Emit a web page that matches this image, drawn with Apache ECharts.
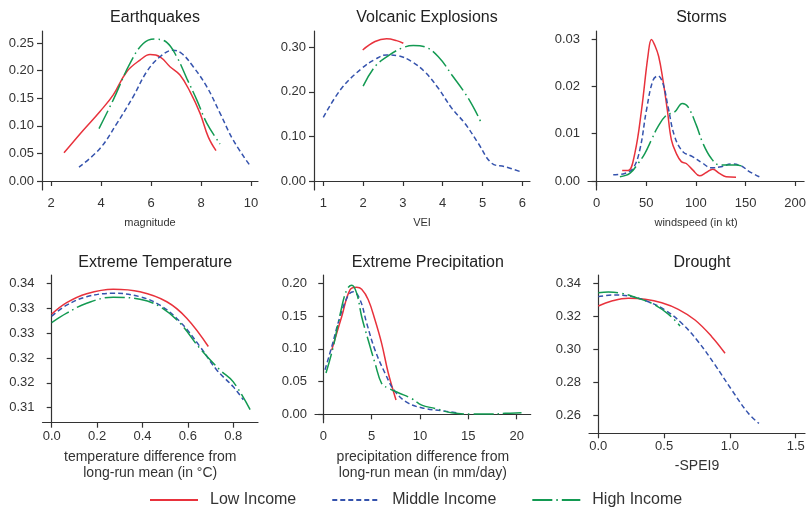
<!DOCTYPE html>
<html>
<head>
<meta charset="utf-8">
<script src="https://cdn.jsdelivr.net/npm/echarts@6/dist/echarts.min.js"></script>
<style>
  html, body { margin: 0; padding: 0; background: #fff; }
  #chart { width: 809px; height: 511px; }
</style>
</head>
<body>
<div id="chart"></div>
<script>
// series names
const incomeGroups = ['Low Income', 'Middle Income', 'High Income'];

// Earthquakes (magnitude)
const eqLow = [[2.52,0.051],[3.29,0.092],[3.96,0.126],[4.49,0.156],[5.03,0.198],[5.56,0.219],[5.96,0.229],[6.36,0.225],[6.76,0.207],[7.16,0.192],[7.56,0.162],[7.96,0.123],[8.29,0.080],[8.6,0.055]];
const eqMid = [[3.12,0.025],[3.96,0.059],[4.63,0.104],[5.29,0.153],[5.83,0.198],[6.36,0.225],[6.89,0.237],[7.23,0.231],[7.69,0.207],[8.23,0.171],[8.76,0.123],[9.29,0.074],[9.99,0.026]];
const eqHigh = [[3.92,0.095],[4.49,0.147],[5.16,0.213],[5.69,0.249],[6.16,0.257],[6.63,0.251],[7.03,0.225],[7.43,0.186],[7.83,0.147],[8.23,0.105],[8.76,0.067]];
const eqXTicks = [2, 4, 6, 8, 10];
const eqYTicks = [0, 0.05, 0.10, 0.15, 0.20, 0.25];

// Volcanic explosions (VEI)
const volLow = [[1.99,0.294],[2.30,0.313],[2.59,0.319],[2.84,0.315],[3.01,0.309]];
const volMid = [[1.0,0.143],[1.46,0.208],[1.97,0.253],[2.30,0.273],[2.59,0.283],[2.88,0.281],[3.22,0.268],[3.55,0.245],[3.89,0.208],[4.23,0.163],[4.56,0.129],[4.89,0.085],[5.23,0.040],[5.57,0.032],[6.0,0.0195]];
const volHigh = [[2.0,0.213],[2.30,0.257],[2.63,0.281],[2.97,0.298],[3.26,0.304],[3.55,0.301],[3.89,0.279],[4.23,0.238],[4.56,0.197],[4.81,0.159],[4.98,0.128]];
const volXTicks = [1, 2, 3, 4, 5, 6];
const volYTicks = [0, 0.10, 0.20, 0.30];

// Storms (windspeed in kt)
const stLow = [[25.7,0.0022],[31.7,0.0022],[38.4,0.0058],[45.2,0.0150],[51.8,0.0266],[55.2,0.0299],[58.5,0.0287],[62.5,0.0263],[66.8,0.0213],[71.2,0.0150],[75.3,0.0087],[80.3,0.0058],[85.3,0.0041],[90.3,0.0037],[97,0.0023],[103.7,0.0011],[110.4,0.0018],[117,0.0025],[123.7,0.0016],[130.4,0.0009],[140.4,0.0008]];
const stMid = [[16.7,0.0013],[28.4,0.0016],[36.7,0.0027],[43.5,0.0066],[50.2,0.0150],[56.8,0.0213],[61.8,0.0222],[66.8,0.0206],[71.9,0.0157],[78.6,0.0094],[86.9,0.0062],[97,0.0051],[107,0.0037],[115.4,0.0028],[125.4,0.0030],[135.5,0.0036],[145.5,0.0032],[153.8,0.0020],[163.9,0.0009]];
const stHigh = [[23.4,0.0009],[33.4,0.0016],[41.7,0.0037],[48.5,0.0058],[55.2,0.0087],[61.8,0.0115],[70.2,0.0139],[78.6,0.0146],[86.3,0.0164],[91.9,0.0157],[100.4,0.0118],[107,0.0080],[115.4,0.0048],[123.7,0.0034],[132,0.0034],[140.4,0.0034],[148.8,0.0030]];
const stXTicks = [0, 50, 100, 150, 200];
const stYTicks = [0, 0.01, 0.02, 0.03];

// Extreme temperature
const tpLow = [[0,0.3338],[0.066,0.3361],[0.154,0.3379],[0.271,0.3388],[0.389,0.3383],[0.507,0.3363],[0.595,0.3330],[0.69,0.3273]];
const tpMid = [[0,0.3334],[0.066,0.3356],[0.154,0.3373],[0.271,0.3380],[0.389,0.3373],[0.477,0.3356],[0.565,0.3323],[0.653,0.3273],[0.727,0.3226],[0.8,0.3192],[0.844,0.3166]];
const tpHigh = [[0,0.3321],[0.066,0.3340],[0.154,0.3360],[0.271,0.3372],[0.389,0.3368],[0.477,0.3353],[0.565,0.3320],[0.653,0.3269],[0.741,0.3226],[0.8,0.3202],[0.874,0.3146]];
const tpXTicks = [0, 0.2, 0.4, 0.6, 0.8];
const tpYTicks = [0.315, 0.32, 0.325, 0.33, 0.335, 0.34];
const tpYLabels = ['0.31', '0.32', '0.32', '0.33', '0.33', '0.34'];

// Extreme precipitation
const prLow = [[0.87,0.098],[1.9,0.149],[2.76,0.190],[3.45,0.194],[3.97,0.191],[4.65,0.175],[5.35,0.144],[6.04,0.108],[6.72,0.063],[7.52,0.022]];
const prMid = [[0.18,0.068],[0.87,0.103],[1.73,0.149],[2.59,0.182],[3.1,0.187],[3.8,0.175],[4.49,0.139],[5.35,0.098],[6.38,0.063],[7.41,0.035],[8.79,0.017],[10.5,0.009],[12.24,0.0055],[13.8,0.0024]];
const prHigh = [[0.28,0.063],[1.03,0.103],[1.73,0.152],[2.42,0.190],[2.94,0.197],[3.45,0.185],[3.97,0.149],[4.65,0.113],[5.35,0.078],[6.04,0.047],[6.72,0.040],[7.76,0.033],[9.14,0.024],[10.18,0.014],[11.55,0.009],[13.28,0.0024],[15.35,0.0005],[17.4,0.0005],[18.8,0.0015],[20.5,0.0024]];
const prXTicks = [0, 5, 10, 15, 20];
const prYTicks = [0, 0.05, 0.10, 0.15, 0.20];

// Drought (-SPEI9)
const drLow = [[0,0.3262],[0.102,0.3292],[0.228,0.3309],[0.355,0.3303],[0.482,0.3282],[0.608,0.3242],[0.735,0.3177],[0.862,0.3076],[0.963,0.2975]];
const drMid = [[0,0.3319],[0.127,0.3329],[0.254,0.3319],[0.38,0.3288],[0.507,0.3238],[0.634,0.3157],[0.76,0.3045],[0.887,0.2904],[1.014,0.2752],[1.14,0.2610],[1.221,0.2549]];
const drHigh = [[0,0.3343],[0.076,0.3347],[0.178,0.3339],[0.279,0.3315],[0.406,0.3278],[0.532,0.3213],[0.621,0.3141]];
const drXTicks = [0, 0.5, 1.0, 1.5];
const drYTicks = [0.26, 0.28, 0.30, 0.32, 0.34];

const lineColors = ['#e8323c', '#3553ad', '#139a52'];
const lineTypes = ['solid', [5, 3], [20, 4, 1.5, 4]];
const font = 'Liberation Sans, Arial, Helvetica, sans-serif';

const fix = d => v => v.toFixed(d);
const tpFmt = v => {
    let best = 0;
    tpYTicks.forEach((t, i) => { if (Math.abs(t - v) < Math.abs(tpYTicks[best] - v)) best = i; });
    return tpYLabels[best];
};

let panels = [
    {title: 'Earthquakes', xName: 'magnitude', small: true,
     box: {left: 42, top: 31, width: 216, height: 159},
     x: [1.64, 10.28], y: [-0.0163, 0.2717], xTicks: eqXTicks, yTicks: eqYTicks,
     xFmt: fix(0), yFmt: fix(2), lines: [eqLow, eqMid, eqHigh]},
    {title: 'Volcanic Explosions', xName: 'VEI', small: true,
     box: {left: 314, top: 31, width: 216, height: 159},
     x: [0.766, 6.193], y: [-0.0202, 0.3366], xTicks: volXTicks, yTicks: volYTicks,
     xFmt: fix(0), yFmt: fix(2), lines: [volLow, volMid, volHigh]},
    {title: 'Storms', xName: 'windspeed (in kt)', small: true,
     box: {left: 588, top: 31, width: 217, height: 159},
     x: [-8.73, 209], y: [-0.0019, 0.03169], xTicks: stXTicks, yTicks: stYTicks,
     xFmt: fix(0), yFmt: fix(2), lines: [stLow, stMid, stHigh]},
    {title: 'Extreme Temperature', xName: 'temperature difference from\nlong-run mean (in °C)',
     box: {left: 42.5, top: 275, width: 215.5, height: 147.7},
     x: [-0.0405, 0.9088], y: [0.31199, 0.34167], xTicks: tpXTicks, yTicks: tpYTicks,
     xFmt: fix(1), yFmt: tpFmt, lines: [tpLow, tpMid, tpHigh]},
    {title: 'Extreme Precipitation', xName: 'precipitation difference from\nlong-run mean (in mm/day)',
     box: {left: 315, top: 275, width: 215.7, height: 147.7},
     x: [-0.858, 21.45], y: [-0.0128, 0.2127], xTicks: prXTicks, yTicks: prYTicks,
     xFmt: fix(0), yFmt: fix(2), lines: [prLow, prMid, prHigh]},
    {title: 'Drought', xName: '-SPEI9',
     box: {left: 589, top: 275, width: 216, height: 158.3},
     x: [-0.0707, 1.5707], y: [0.24887, 0.34504], xTicks: drXTicks, yTicks: drYTicks,
     xFmt: fix(1), yFmt: fix(2), lines: [drLow, drMid, drHigh]}
];

const axisLine = {show: true, lineStyle: {color: '#333', width: 1.2}};
const axisTick = {show: true, length: 5, lineStyle: {color: '#333', width: 1.2}};

let option = {
    backgroundColor: '#fff',
    animation: false,
    title: [], grid: [], xAxis: [], yAxis: [], series: [],
    legend: {
        data: incomeGroups,
        left: 144, top: 487,
        itemWidth: 48, itemHeight: 14, itemGap: 35,
        itemStyle: {opacity: 0},
        textStyle: {fontFamily: font, fontSize: 16, color: '#333', padding: [0, 0, 0, 7]}
    }
};

panels.forEach((p, i) => {
    option.title.push({
        text: p.title,
        left: p.box.left + p.box.width / 2,
        top: i < 3 ? 5 : 250,
        textAlign: 'center',
        textStyle: {fontFamily: font, fontSize: 16, fontWeight: 'normal', color: '#222'}
    });
    option.grid.push(Object.assign({containLabel: false}, p.box));
    option.xAxis.push({
        type: 'value', gridIndex: i, min: p.x[0], max: p.x[1],
        name: p.xName, nameLocation: 'middle', nameGap: p.small ? 25 : (i === 5 ? 25 : 26),
        nameTextStyle: {fontFamily: font, fontSize: p.small ? 11 : 14, lineHeight: 16, color: '#333'},
        axisLine: axisLine, axisTick: Object.assign({customValues: p.xTicks}, axisTick),
        splitLine: {show: false},
        axisLabel: {customValues: p.xTicks, formatter: p.xFmt, margin: 7,
                    fontFamily: font, fontSize: 13, color: '#333', showMinLabel: true, showMaxLabel: true}
    });
    option.yAxis.push({
        type: 'value', gridIndex: i, min: p.y[0], max: p.y[1],
        axisLine: axisLine, axisTick: Object.assign({customValues: p.yTicks}, axisTick),
        splitLine: {show: false},
        axisLabel: {customValues: p.yTicks, formatter: p.yFmt, margin: 8,
                    fontFamily: font, fontSize: 13, color: '#333', showMinLabel: true, showMaxLabel: true}
    });
    p.lines.forEach((d, k) => {
        option.series.push({
            name: incomeGroups[k], type: 'line',
            xAxisIndex: i, yAxisIndex: i,
            data: d, smooth: 0.4, symbol: 'none', showSymbol: false,
            color: lineColors[k],
            lineStyle: {color: lineColors[k], width: 1.5, type: lineTypes[k]}
        });
    });
});

let chart = echarts.init(document.getElementById('chart'));
chart.setOption(option);
</script>
</body>
</html>
